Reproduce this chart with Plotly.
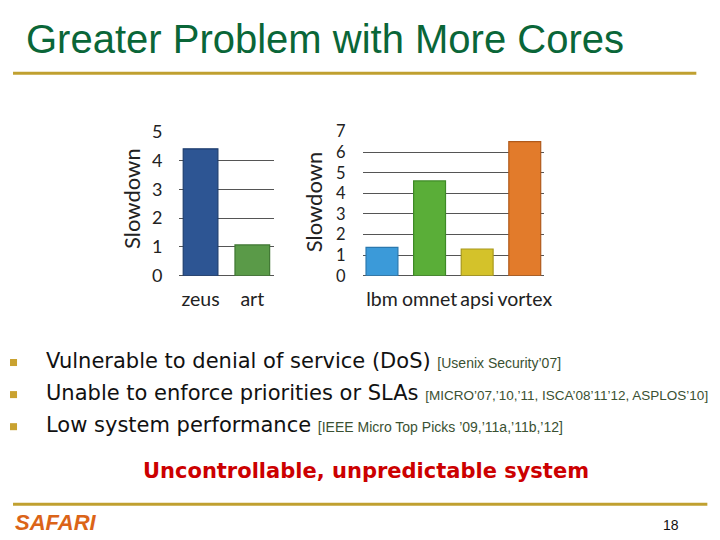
import plotly.graph_objects as go

# ---- data ----
apps_left = ["zeus", "art"]
slow_left = [4.40, 1.07]
colors_left = ["#2D5593", "#5A9A48"]
edges_left = ["#1E3D6E", "#3F7632"]

apps_right = ["lbm", "omnet", "apsi", "vortex"]
slow_right = [1.38, 4.60, 1.30, 6.51]
colors_right = ["#3B9AD9", "#5AAE38", "#D4C22A", "#E27B2B"]
edges_right = ["#2A78AE", "#3E8A26", "#A8981C", "#B0591A"]

ticks_left = [0, 1, 2, 3, 4, 5]
ticks_right = [0, 1, 2, 3, 4, 5, 6, 7]

title_text = "Greater Problem with More Cores"
bullets = [
    ("Vulnerable to denial of service (DoS)", "[Usenix Security’07]", 14),
    ("Unable to enforce priorities or SLAs", "[MICRO’07,’10,’11, ISCA’08’11’12, ASPLOS’10]", 13.5),
    ("Low system performance", "[IEEE Micro Top Picks ’09,’11a,’11b,’12]", 14),
]
conclusion = "Uncontrollable, unpredictable system"
footer_left = "SAFARI"
page_no = "18"

W, H = 720, 540
# map target picture pixels to paper coordinates (calibrated from test renders)
def px(x):
    return (x / 0.987) / W
def py(y):
    return 1 - ((y - 10.8) / 0.957) / H

fig = go.Figure()
fig.add_trace(go.Bar(x=apps_left, y=slow_left, marker=dict(color=colors_left,
                     line=dict(color=edges_left, width=1.2)), xaxis="x", yaxis="y",
                     showlegend=False))
fig.add_trace(go.Bar(x=apps_right, y=slow_right, marker=dict(color=colors_right,
                     line=dict(color=edges_right, width=1.2)), xaxis="x2", yaxis="y2",
                     showlegend=False))

yfont1 = dict(family="Lato", size=18, color="#222222")
yfont2 = dict(family="Lato", size=16.5, color="#222222")
xfont = dict(family="Lato", size=19.5, color="#222222")
grid = dict(showgrid=True, gridcolor="#555555", gridwidth=1, zeroline=True,
            zerolinecolor="#555555", zerolinewidth=1, showline=False)

fig.update_layout(
    width=W, height=H, margin=dict(l=0, r=0, t=0, b=0),
    paper_bgcolor="white", plot_bgcolor="white", bargap=0.33,
    xaxis=dict(domain=[px(179), px(273)], range=[-0.41, 1.41], showgrid=False,
               tickfont=xfont, tickangle=0, ticklabelstandoff=10, anchor="y"),
    yaxis=dict(domain=[py(274), py(130)], range=[0, 5], tickvals=ticks_left,
               tickfont=yfont1, ticklabelstandoff=16, anchor="x", **grid),
    xaxis2=dict(domain=[px(362), px(543)], range=[-0.405, 3.405], showgrid=False,
                tickfont=xfont, tickangle=0, ticklabelstandoff=10, anchor="y2"),
    yaxis2=dict(domain=[py(274), py(130)], range=[0, 7], tickvals=ticks_right,
                tickfont=yfont2, ticklabelstandoff=16, anchor="x2", **grid),
)

ann = []
# axis titles
for xc, yc in [(131, 197), (313, 200)]:
    ann.append(dict(text="Slowdown", x=px(xc), y=py(yc), xref="paper", yref="paper",
                    textangle=-90, showarrow=False, xanchor="center", yanchor="middle",
                    font=dict(family="Lato", size=22, color="#222222")))
# title
ann.append(dict(text=title_text, x=px(24), y=py(38), xref="paper", yref="paper",
                showarrow=False, xanchor="left", yanchor="middle",
                font=dict(family="Liberation Sans", size=40, color="#0A6638")))
# bullets
shapes = []
ys = [359, 391, 423]
for (main, cite, csize), yc in zip(bullets, ys):
    shapes.append(dict(type="rect", xref="paper", yref="paper",
                       x0=px(10), x1=px(17), y0=py(yc + 5), y1=py(yc - 2),
                       fillcolor="#C9A230", line=dict(width=0)))
    ann.append(dict(text=main + " <span style='font-family:Liberation Sans;font-size:%spx;color:#3A5132'>" % csize
                    + cite + "</span>",
                    x=px(44), y=py(yc), xref="paper", yref="paper", showarrow=False,
                    xanchor="left", yanchor="middle",
                    font=dict(family="DejaVu Sans", size=21, color="#111111")))
ann.append(dict(text="<b>" + conclusion + "</b>", x=px(365), y=py(469), xref="paper", yref="paper",
                showarrow=False, xanchor="center", yanchor="middle",
                font=dict(family="DejaVu Sans", size=21, color="#CC0000")))
ann.append(dict(text="<b><i>" + footer_left + "</i></b>", x=px(13), y=py(520), xref="paper",
                yref="paper", showarrow=False, xanchor="left", yanchor="middle",
                font=dict(family="Liberation Sans", size=22, color="#DB6418")))
ann.append(dict(text=page_no, x=px(670), y=py(523), xref="paper", yref="paper",
                showarrow=False, xanchor="center", yanchor="middle",
                font=dict(family="Liberation Sans", size=14, color="#111111")))

# rules
shapes.append(dict(type="line", xref="paper", yref="paper", x0=px(13), x1=px(695),
                   y0=py(72), y1=py(72), line=dict(color="#C0A030", width=3)))
shapes.append(dict(type="line", xref="paper", yref="paper", x0=px(13), x1=px(706),
                   y0=py(502), y1=py(502), line=dict(color="#C0A030", width=3)))

fig.update_layout(annotations=ann, shapes=shapes)
fig.write_html("out.html")
